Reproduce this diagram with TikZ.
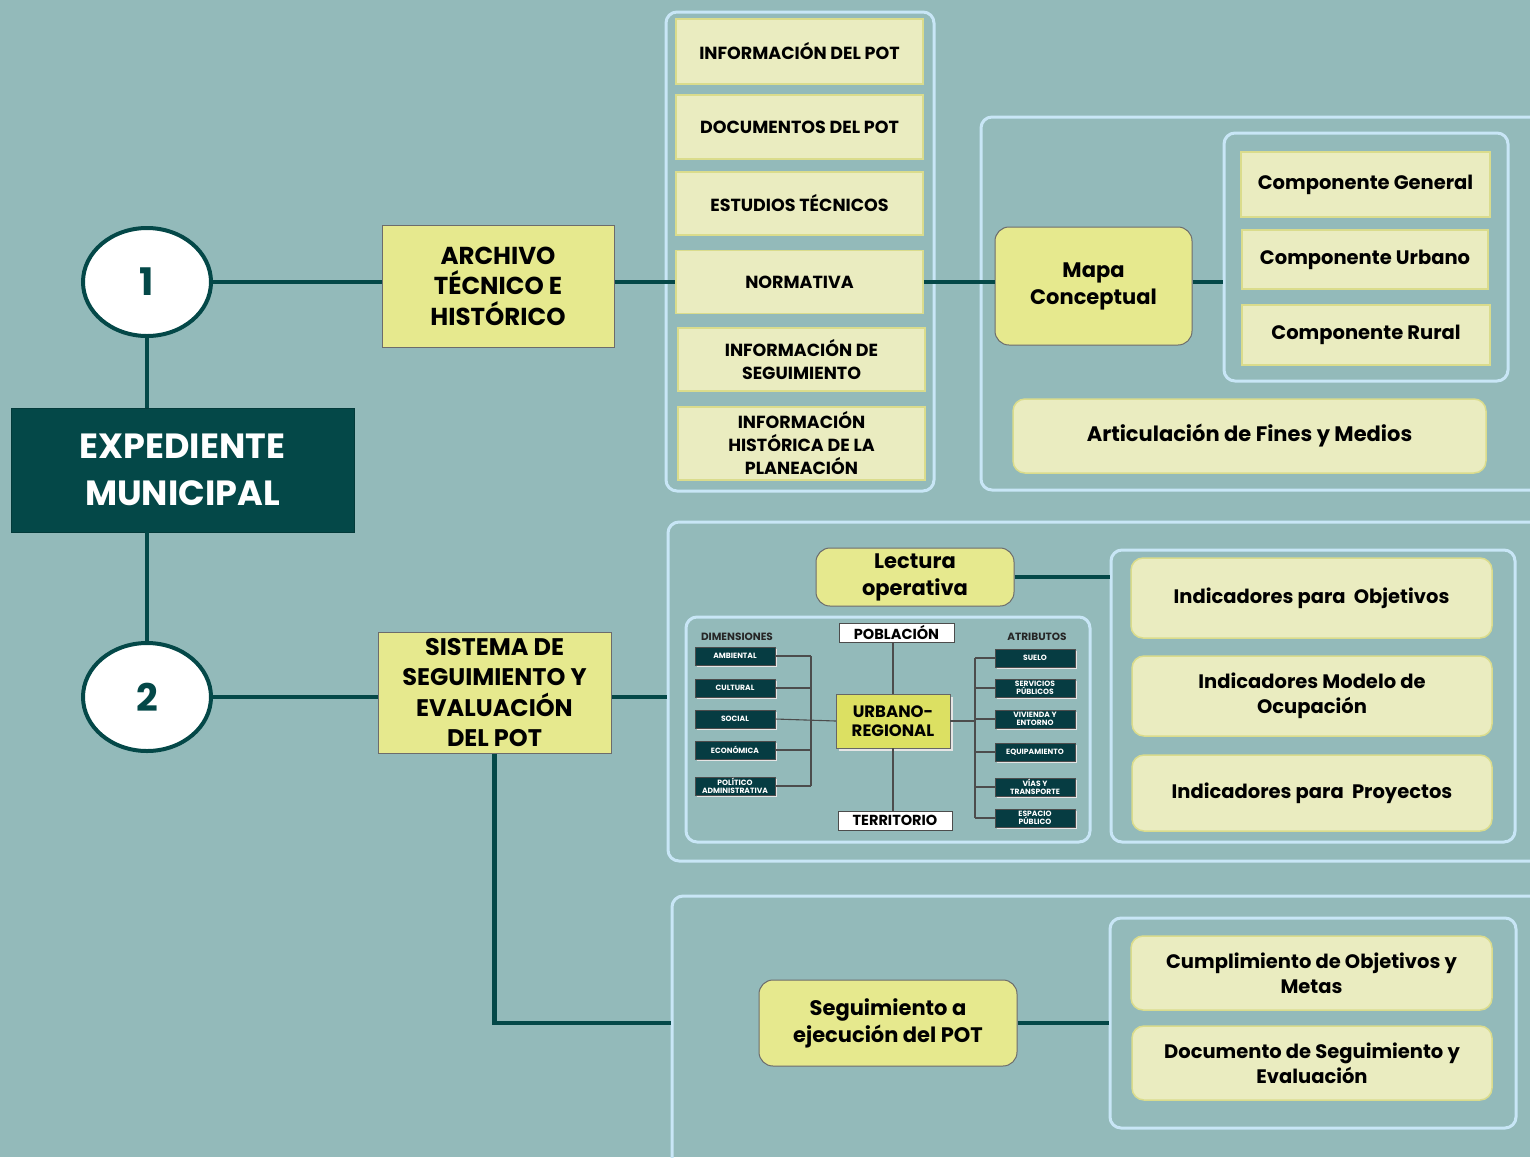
\documentclass[tikz,border=0pt]{standalone}
\usepackage{fontspec}
\setmainfont{Poppins}
\usetikzlibrary{shapes.geometric,shadows}

\definecolor{bgteal}{RGB}{147,186,186}
\definecolor{dkgreen}{RGB}{4,72,72}
\definecolor{hubylw}{RGB}{230,233,142}
\definecolor{itemylw}{RGB}{234,236,192}
\definecolor{itemedge}{RGB}{218,220,140}
\definecolor{framebl}{RGB}{200,230,246}
\definecolor{minidark}{RGB}{6,60,66}
\definecolor{urbylw}{RGB}{220,224,98}

\newcommand{\fsz}[2]{\fontsize{#1}{#2}\selectfont}

\begin{document}
\begin{tikzpicture}[x=1pt, y=-1pt,
  link/.style={draw=dkgreen, line width=4.5pt},
  minilink/.style={draw=black!70, line width=1.1pt},
  framebox/.style={draw=framebl, line width=3pt, rounded corners=11pt, inner sep=0pt},
  numnode/.style={ellipse, draw=dkgreen, fill=white, line width=4pt, minimum width=128pt, minimum height=108pt, inner sep=0pt, text=dkgreen, font=\bfseries\fsz{38}{38}},
  mainbox/.style={rectangle, fill=dkgreen, draw=dkgreen!80!black, text=white, minimum width=343pt, minimum height=124pt, align=center, font=\bfseries\fsz{35}{47}},
  hubbox/.style={rectangle, fill=hubylw, draw=gray!85!black, line width=1pt, align=center, inner sep=0pt, font=\bfseries\fsz{24.5}{30.5}},
  hubround/.style={hubbox, rounded corners=14pt, font=\bfseries\fsz{21}{27}},
  itembox/.style={rectangle, fill=itemylw, draw=itemedge, line width=1.5pt, align=center, inner sep=0pt, font=\bfseries\fsz{17.5}{23}},
  itemround/.style={itembox, rounded corners=12pt, font=\bfseries\fsz{19.5}{25}},
  minibox/.style={rectangle, fill=minidark, draw=black!70, text=white, minimum width=80pt, minimum height=18pt, inner sep=0pt, align=center, font=\bfseries\fsz{7.6}{8.2}, drop shadow={shadow xshift=2pt, shadow yshift=-2pt, fill=white!80!gray, opacity=1}},
  whitebox/.style={rectangle, fill=white, draw=black!70, minimum width=115pt, minimum height=19pt, inner sep=0pt, font=\bfseries\fsz{14.5}{15}},
  minilabel/.style={inner sep=0pt, text=black!85, font=\bfseries\fsz{10.5}{11}}]
  % Background
  \fill[bgteal] (0,0) rectangle (1530,1157);
  \useasboundingbox (0,0) rectangle (1530,1157);

  % Frames
  \node[framebox, minimum width=268pt, minimum height=479pt] (frmA) at (800,251.5) {};
  \node[framebox, minimum width=564pt, minimum height=373pt] (frmB) at (1263,303.5) {};
  \node[framebox, minimum width=284pt, minimum height=248pt] (frmC) at (1366,257) {};
  \node[framebox, minimum width=877pt, minimum height=339pt] (frmD) at (1106.5,691.5) {};
  \node[framebox, minimum width=404pt, minimum height=292pt] (frmE) at (1313,696) {};
  \node[framebox, minimum width=404pt, minimum height=225pt] (frmF) at (888,729.5) {};
  \node[framebox, minimum width=873pt, minimum height=290pt] (frmG) at (1108.5,1041) {};
  \node[framebox, minimum width=406pt, minimum height=210pt] (frmH) at (1313,1023) {};

  % Main column
  \node[numnode] (n1) at (147,282) {1};
  \node[numnode] (n2) at (147,697) {2};
  \node[mainbox] (exped) at (182.5,470) {EXPEDIENTE\\MUNICIPAL};
  \node[hubbox, minimum width=232pt, minimum height=122pt] (archivo) at (498,286) {ARCHIVO\\TÉCNICO E\\HISTÓRICO};
  \node[hubbox, minimum width=233pt, minimum height=121pt, font=\bfseries\fsz{24}{30.5}] (sistema) at (494.5,692.5) {SISTEMA DE\\SEGUIMIENTO Y\\EVALUACIÓN\\DEL POT};

  % Archivo items
  \node[itembox, minimum width=247pt, minimum height=65pt] (infopot) at (799.5,51.5) {INFORMACIÓN DEL POT};
  \node[itembox, minimum width=247pt, minimum height=64pt] (docpot) at (799.5,127) {DOCUMENTOS DEL POT};
  \node[itembox, minimum width=247pt, minimum height=63pt] (estudios) at (799.5,203.5) {ESTUDIOS TÉCNICOS};
  \node[itembox, minimum width=247pt, minimum height=63pt] (normativa) at (799.5,282) {NORMATIVA};
  \node[itembox, minimum width=247pt, minimum height=63pt] (infoseg) at (801.5,359.5) {INFORMACIÓN DE\\SEGUIMIENTO};
  \node[itembox, minimum width=247pt, minimum height=73pt] (infohist) at (801.5,443.5) {INFORMACIÓN\\HISTÓRICA DE LA\\PLANEACIÓN};

  % Mapa conceptual
  \node[hubround, minimum width=197pt, minimum height=118pt] (mapa) at (1093.5,286) {Mapa\\Conceptual};
  \node[itembox, minimum width=249pt, minimum height=65pt, font=\bfseries\fsz{19.5}{25}] (compgen) at (1365.5,184.5) {Componente General};
  \node[itembox, minimum width=246pt, minimum height=59pt, font=\bfseries\fsz{19.5}{25}] (compurb) at (1365,259.5) {Componente Urbano};
  \node[itembox, minimum width=248pt, minimum height=60pt, font=\bfseries\fsz{19.5}{25}] (comprur) at (1366,335) {Componente Rural};
  \node[itemround, minimum width=473pt, minimum height=74pt, font=\bfseries\fsz{21}{25}] (articula) at (1249.5,436) {Articulación de Fines y Medios};

  % Lectura operativa
  \node[hubround, minimum width=198pt, minimum height=58pt] (lectura) at (915,577) {Lectura\\operativa};
  \node[itemround, minimum width=361pt, minimum height=80pt] (indobj) at (1311.5,598) {Indicadores para~ Objetivos};
  \node[itemround, minimum width=360pt, minimum height=80pt] (indmod) at (1312,696) {Indicadores Modelo de\\Ocupación};
  \node[itemround, minimum width=360pt, minimum height=76pt] (indproy) at (1312,793) {Indicadores para~ Proyectos};

  % Urbano-regional
  \node[whitebox] (pobla) at (896.5,632.5) {POBLACIÓN};
  \node[whitebox, minimum width=114pt] (territ) at (895,820.5) {TERRITORIO};
  \node[rectangle, fill=urbylw, draw=black!60, minimum width=114pt, minimum height=54pt, inner sep=0pt, align=center, font=\bfseries\fsz{16.5}{19}, drop shadow={shadow xshift=2.5pt, shadow yshift=-2.5pt, fill=white!80!gray, opacity=1}] (urbano) at (893,721) {URBANO-\\REGIONAL};
  \node[minilabel] (dimlab) at (737,637) {DIMENSIONES};
  \node[minilabel] (atrlab) at (1037,637) {ATRIBUTOS};
  \foreach \i/\y/\txt in {1/656/AMBIENTAL, 2/688/CULTURAL, 3/719/SOCIAL, 4/750/ECONÓMICA, 5/786/{POLÍTICO\\ADMINISTRATIVA}}
    \node[minibox] (d\i) at (735,\y) {\txt};
  \foreach \i/\y/\txt in {1/658/SUELO, 2/688/{SERVICIOS\\PÚBLICOS}, 3/719/{VIVIENDA Y\\ENTORNO}, 4/752/EQUIPAMIENTO, 5/787/{VÍAS Y\\TRANSPORTE}, 6/818/{ESPACIO\\PÚBLICO}}
    \node[minibox] (a\i) at (1035,\y) {\txt};
  \coordinate (dbus) at (811,719);
  \coordinate (abus) at (975,719);
  \foreach \i in {1,2,4,5}
    \draw[minilink] (d\i.east) -- (d\i.east -| dbus);
  \draw[minilink] (d1.east -| dbus) -- (d5.east -| dbus);
  \draw[minilink] (d3.east) -- (urbano.west);
  \foreach \i in {1,...,6}
    \draw[minilink] (a\i.west) -- (a\i.west -| abus);
  \draw[minilink] (a1.west -| abus) -- (a6.west -| abus);
  \draw[minilink] (urbano.east) -- (urbano.east -| abus);
  \draw[minilink] (urbano.north) -- (urbano.north |- pobla.south);
  \draw[minilink] (urbano.south) -- (urbano.south |- territ.north);

  % Seguimiento
  \node[hubround, minimum width=258pt, minimum height=86pt] (seguim) at (888,1023) {Seguimiento a\\ejecución del POT};
  \node[itemround, minimum width=361pt, minimum height=74pt] (cumpl) at (1311.5,973) {Cumplimiento de Objetivos y\\Metas};
  \node[itemround, minimum width=360pt, minimum height=74pt] (docseg) at (1312,1063) {Documento de Seguimiento y\\Evaluación};

  % Connectors
  \draw[link] (n1.south) -- (exped.north -| n1.south);
  \draw[link] (exped.south -| n2.north) -- (n2.north);
  \draw[link] (n1.east) -- (n1.east -| archivo.west);
  \draw[link] (archivo.east |- normativa.west) -- (normativa.west);
  \draw[link] (normativa.east) -- (normativa.east -| mapa.west);
  \draw[link] (mapa.east |- normativa.east) -- (normativa.east -| frmC.west);
  \draw[link] (n2.east) -- (n2.east -| sistema.west);
  \draw[link] (n2.east -| sistema.east) -- (n2.east -| frmD.west);
  \draw[link] (lectura.east) -- (lectura.east -| frmE.west);
  \draw[link] (sistema.south) |- (frmG.west |- seguim.west);
  \draw[link] (seguim.east) -- (seguim.east -| frmH.west);
\end{tikzpicture}
\end{document}
